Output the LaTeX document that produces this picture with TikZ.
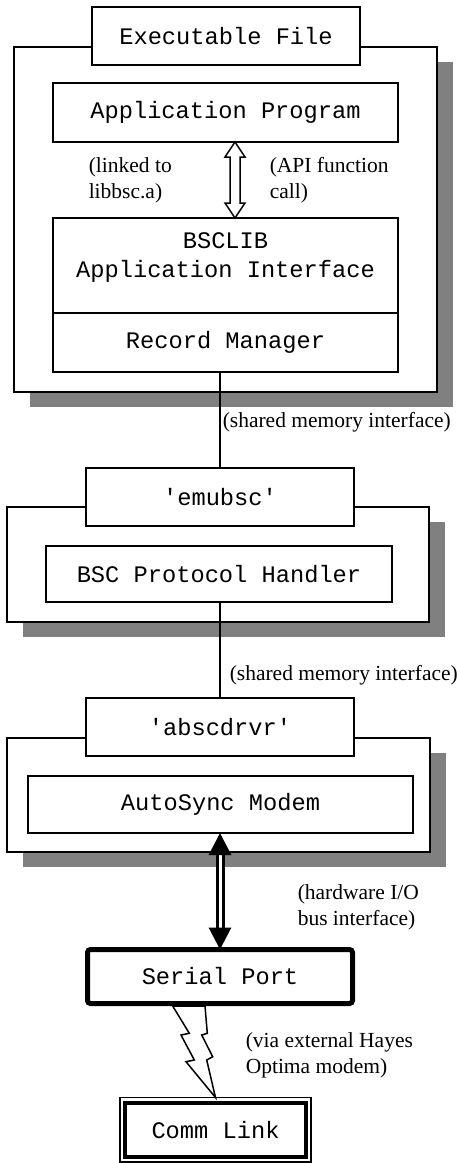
\documentclass[tikz,border=0pt]{standalone}
\usepackage{fontspec}
\setmainfont{Liberation Serif}
\newfontfamily\monofont{Liberation Mono}
\usetikzlibrary{arrows.meta,shadows}

\begin{document}
\begin{tikzpicture}[x=0.5pt, y=-0.5pt, line width=0.75pt,
    box/.style={rectangle, draw, fill=white, inner sep=0pt, outer sep=0pt,
      font=\monofont\fontsize{11.85}{14.5}\selectfont, align=center},
    boxtext/.style={inner sep=0pt, font=\monofont\fontsize{11.85}{14.5}\selectfont, align=center},
    shadowbox/.style={box, drop shadow={shadow xshift=8pt, shadow yshift=-7.5pt,
      fill=black!50, opacity=1}},
    note/.style={anchor=west, inner sep=0pt, align=left, font=\fontsize{10.75}{13}\selectfont},
    hollow/.style={draw, fill=white, line join=miter},
    bus/.style={double, double distance=1.5pt, line width=1.5pt,
      {Triangle[length=11pt,width=11pt]}-{Triangle[length=11pt,width=11pt]}},
    bolt/.style={draw, fill=white, line join=miter}
    ]
\useasboundingbox (0,0) rectangle (456,1163);

\node[shadowbox, minimum width=211.5pt, minimum height=172.5pt] (exe) at (225.5,219.5) {};
\node[box, minimum width=134pt, minimum height=29pt] (exetitle) at (226,36) {Executable File};
\node[box, minimum width=172.5pt, minimum height=29.5pt] (appprog) at (225.5,112.5) {Application Program};
\node[box, minimum width=172.5pt, minimum height=47.5pt] (bsclib) at (225.5,265.5) {};
\node[boxtext] (bsclibtext) at (225.5,257.5) {BSCLIB\\Application Interface};
\node[box, minimum width=172.5pt, minimum height=29.5pt] (recmgr) at (225.5,342.5) {Record Manager};
\node[note] (linked) at (88,180) {(linked to\\libbsc.a)};
\node[note] (apicall) at (269,180) {(API function\\call)};

\node[shadowbox, minimum width=211pt, minimum height=57.5pt] (emu) at (218,564.5) {};
\node[box, minimum width=134pt, minimum height=29pt] (emubsc) at (220,497) {\textquotesingle emubsc\textquotesingle};
\node[box, minimum width=173pt, minimum height=28pt] (bscph) at (219,574) {BSC Protocol Handler};
\node[note] (shmem1) at (222,422) {(shared memory interface)};

\node[shadowbox, minimum width=211.5pt, minimum height=57pt] (drv) at (218.5,795) {};
\node[box, minimum width=134pt, minimum height=29pt] (abscdrvr) at (220,727) {\textquotesingle abscdrvr\textquotesingle};
\node[box, minimum width=192.5pt, minimum height=28.5pt] (autosync) at (220.5,804.5) {AutoSync Modem};
\node[note] (shmem2) at (229,675) {(shared memory interface)};

\node[box, line width=2.5pt, rounded corners=1.5pt, minimum width=132.5pt, minimum height=27pt] (serial) at (220,976.5) {Serial Port};
\node[note] (hwbus) at (297,907) {(hardware I/O\\bus interface)};
\node[box, line width=0.85pt, minimum width=95.3pt, minimum height=32.2pt] (comm) at (215.5,1129.7) {Comm Link};
\draw[line width=2pt] ([shift={(5,5)}]comm.north west) rectangle ([shift={(-5,-5)}]comm.south east);
\node[note] (hayes) at (245,1055) {(via external Hayes\\Optima modem)};

\draw[hollow] (appprog.south -| 235,0) -- ++(10,15) -- ++(-5,0) -- ++(0,46) -- ++(5,0)
  -- (bsclib.north -| 235,0) -- ++(-10,-15) -- ++(5,0) -- ++(0,-46) -- ++(-5,0) -- cycle;
\draw (recmgr.south -| emubsc.north) -- (emubsc.north);
\draw (bscph.south -| abscdrvr.north) -- (abscdrvr.north);
\draw[bus] (autosync.south -| serial.north) -- (serial.north);
\begin{scope}[shift={(serial.south)}]
\draw[bolt] (-47.3,2.5) -- (-30.7,29.8) -- (-39,31.5) -- (-25.7,56.5) -- (-34,58.2) -- (comm.north)
  -- (-13.3,56.5) -- (-7.3,53.2) -- (-18.3,31.5) -- (-12.7,29.8) -- (-15,2.5) -- cycle;
\end{scope}
\end{tikzpicture}
\end{document}
